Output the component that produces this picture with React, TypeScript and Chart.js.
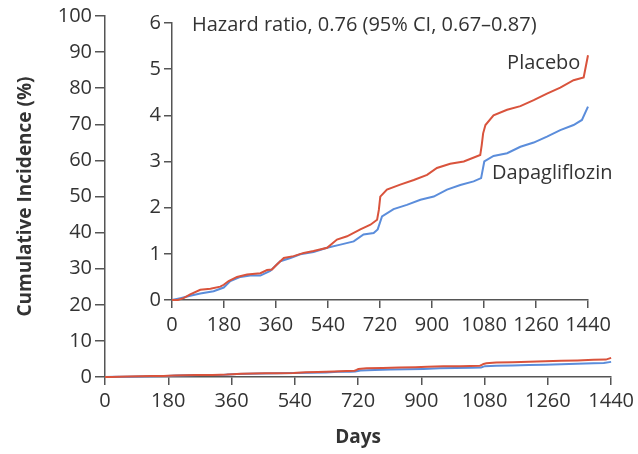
import { useEffect, useRef } from "react";
import { Chart, registerables } from "chart.js";
Chart.register(...registerables);

// ---- Data ----
const dayTicks = [0, 180, 360, 540, 720, 900, 1080, 1260, 1440];

const placeboDays = [0, 20, 40, 63, 98, 133, 167, 179, 196, 225, 260, 306, 329, 346, 363, 387, 421, 456, 490, 537, 571, 606, 652, 687, 710, 716, 721, 744, 790, 837, 883, 917, 963, 1010, 1067, 1072, 1077, 1085, 1113, 1160, 1206, 1252, 1298, 1344, 1390, 1425, 1440];
const placeboValues = [0, 0, 0.04, 0.12, 0.22, 0.245, 0.29, 0.33, 0.41, 0.5, 0.55, 0.58, 0.65, 0.66, 0.77, 0.91, 0.95, 1.02, 1.06, 1.13, 1.31, 1.38, 1.53, 1.63, 1.74, 1.95, 2.24, 2.39, 2.5, 2.6, 2.71, 2.86, 2.95, 3.0, 3.14, 3.35, 3.61, 3.79, 4.0, 4.12, 4.2, 4.33, 4.47, 4.6, 4.76, 4.82, 5.3];

const dapaDays = [0, 29, 63, 98, 144, 179, 202, 237, 271, 306, 340, 375, 410, 444, 490, 537, 583, 629, 663, 698, 712, 727, 767, 813, 860, 906, 952, 998, 1044, 1070, 1081, 1113, 1160, 1206, 1252, 1298, 1344, 1390, 1419, 1440];
const dapaValues = [0, 0.04, 0.09, 0.14, 0.19, 0.27, 0.41, 0.5, 0.53, 0.53, 0.63, 0.84, 0.91, 0.99, 1.04, 1.13, 1.2, 1.27, 1.42, 1.45, 1.53, 1.81, 1.97, 2.06, 2.17, 2.24, 2.39, 2.49, 2.57, 2.64, 3.0, 3.12, 3.18, 3.32, 3.41, 3.54, 3.68, 3.79, 3.9, 4.19];

const seriesNames = ["Placebo", "Dapagliflozin"];
const hazardText = "Hazard ratio, 0.76 (95% CI, 0.67\u20130.87)";
const yTitle = "Cumulative Incidence (%)";
const xTitle = "Days";

// ---- Styles ----
const FONT = "'Open Sans', sans-serif";
const RED = "#d9533c";
const BLUE = "#5b8ddb";
const TEXT = "#333333";
const AXIS = "#555555";

function toPoints(xs: number[], ys: number[]) {
  return xs.map((x, i) => ({ x, y: ys[i] }));
}

function makeDatasets() {
  return [
    {
      label: seriesNames[0],
      data: toPoints(placeboDays, placeboValues),
      borderColor: RED,
      borderWidth: 2,
      pointRadius: 0,
      tension: 0,
      clip: 4,
    },
    {
      label: seriesNames[1],
      data: toPoints(dapaDays, dapaValues),
      borderColor: BLUE,
      borderWidth: 2,
      pointRadius: 0,
      tension: 0,
      clip: 4,
    },
  ];
}

const plain = (v: any) => String(v);

const insetLabels = {
  id: "insetLabels",
  afterDatasetsDraw(chart: any) {
    const { ctx, scales } = chart;
    const x = scales.x;
    const y = scales.y;
    ctx.save();
    ctx.font = `20px ${FONT}`;
    ctx.fillStyle = TEXT;
    ctx.textBaseline = "middle";
    ctx.textAlign = "left";
    ctx.fillText(hazardText, x.getPixelForValue(69), y.getPixelForValue(5.96));
    ctx.fillText(seriesNames[0], x.getPixelForValue(1160), y.getPixelForValue(5.13));
    ctx.fillText(seriesNames[1], x.getPixelForValue(1108), y.getPixelForValue(2.75));
    ctx.restore();
  },
};

export default function App() {
  const mainRef = useRef<HTMLCanvasElement>(null);
  const insetRef = useRef<HTMLCanvasElement>(null);

  useEffect(() => {
    document.body.style.margin = "0";
    const tickFont = { family: FONT, size: 20 };
    const main = new Chart(mainRef.current!, {
      type: "line",
      data: { datasets: makeDatasets() as any },
      options: {
        animation: false,
        responsive: false,
        layout: { padding: { top: 16, right: 26, left: 0, bottom: 0 } },
        plugins: { legend: { display: false }, tooltip: { enabled: false } },
        scales: {
          x: {
            type: "linear",
            min: 0,
            max: 1440,
            afterBuildTicks: (s: any) => {
              s.ticks = dayTicks.map((v) => ({ value: v }));
            },
            afterFit: (s: any) => {
              s.height = 77;
            },
            ticks: { font: tickFont, color: TEXT, padding: 4, autoSkip: false, maxRotation: 0, callback: plain },
            grid: { drawOnChartArea: false, drawTicks: true, tickLength: 8, color: AXIS, lineWidth: 1.5 },
            border: { color: AXIS, width: 1.5 },
            title: {
              display: true,
              text: xTitle,
              color: TEXT,
              font: { family: FONT, size: 19, weight: "bold" },
              padding: { top: 0, bottom: 5 },
            },
          },
          y: {
            type: "linear",
            min: 0,
            max: 100,
            ticks: { stepSize: 10, font: tickFont, color: TEXT, padding: 3, callback: plain },
            afterFit: (s: any) => {
              s.width = 105;
            },
            grid: { drawOnChartArea: false, drawTicks: true, tickLength: 10, color: AXIS, lineWidth: 1.5 },
            border: { color: AXIS, width: 1.5 },
            title: {
              display: true,
              text: yTitle,
              color: TEXT,
              font: { family: FONT, size: 19, weight: "bold" },
              padding: { top: 14, bottom: 0 },
            },
          },
        },
      },
    });

    const inset = new Chart(insetRef.current!, {
      type: "line",
      data: { datasets: makeDatasets() as any },
      options: {
        animation: false,
        responsive: false,
        layout: { padding: { top: 23, right: 50, left: 0, bottom: 0 } },
        plugins: { legend: { display: false }, tooltip: { enabled: false } },
        scales: {
          x: {
            type: "linear",
            min: 0,
            max: 1440,
            afterBuildTicks: (s: any) => {
              s.ticks = dayTicks.map((v) => ({ value: v }));
            },
            afterFit: (s: any) => {
              s.height = 45;
            },
            ticks: { font: tickFont, color: TEXT, padding: 5, autoSkip: false, maxRotation: 0, callback: plain },
            grid: { drawOnChartArea: false, drawTicks: true, tickLength: 8, color: AXIS, lineWidth: 1.5 },
            border: { color: AXIS, width: 1.5 },
          },
          y: {
            type: "linear",
            min: 0,
            max: 6,
            ticks: { stepSize: 1, font: tickFont, color: TEXT, padding: 3, callback: plain },
            afterFit: (s: any) => {
              s.width = 52;
            },
            grid: { drawOnChartArea: false, drawTicks: true, tickLength: 8, color: AXIS, lineWidth: 1.5 },
            border: { color: AXIS, width: 1.5 },
          },
        },
      },
      plugins: [insetLabels],
    });

    return () => {
      main.destroy();
      inset.destroy();
    };
  }, []);

  return (
    <div style={{ position: "relative", width: 638, height: 454, background: "#fff" }}>
      <canvas
        ref={mainRef}
        width={638}
        height={454}
        style={{ position: "absolute", left: 0, top: 0, width: 638, height: 454 }}
      />
      <canvas
        ref={insetRef}
        width={518}
        height={345}
        style={{ position: "absolute", left: 120, top: 0, width: 518, height: 345 }}
      />
    </div>
  );
}
